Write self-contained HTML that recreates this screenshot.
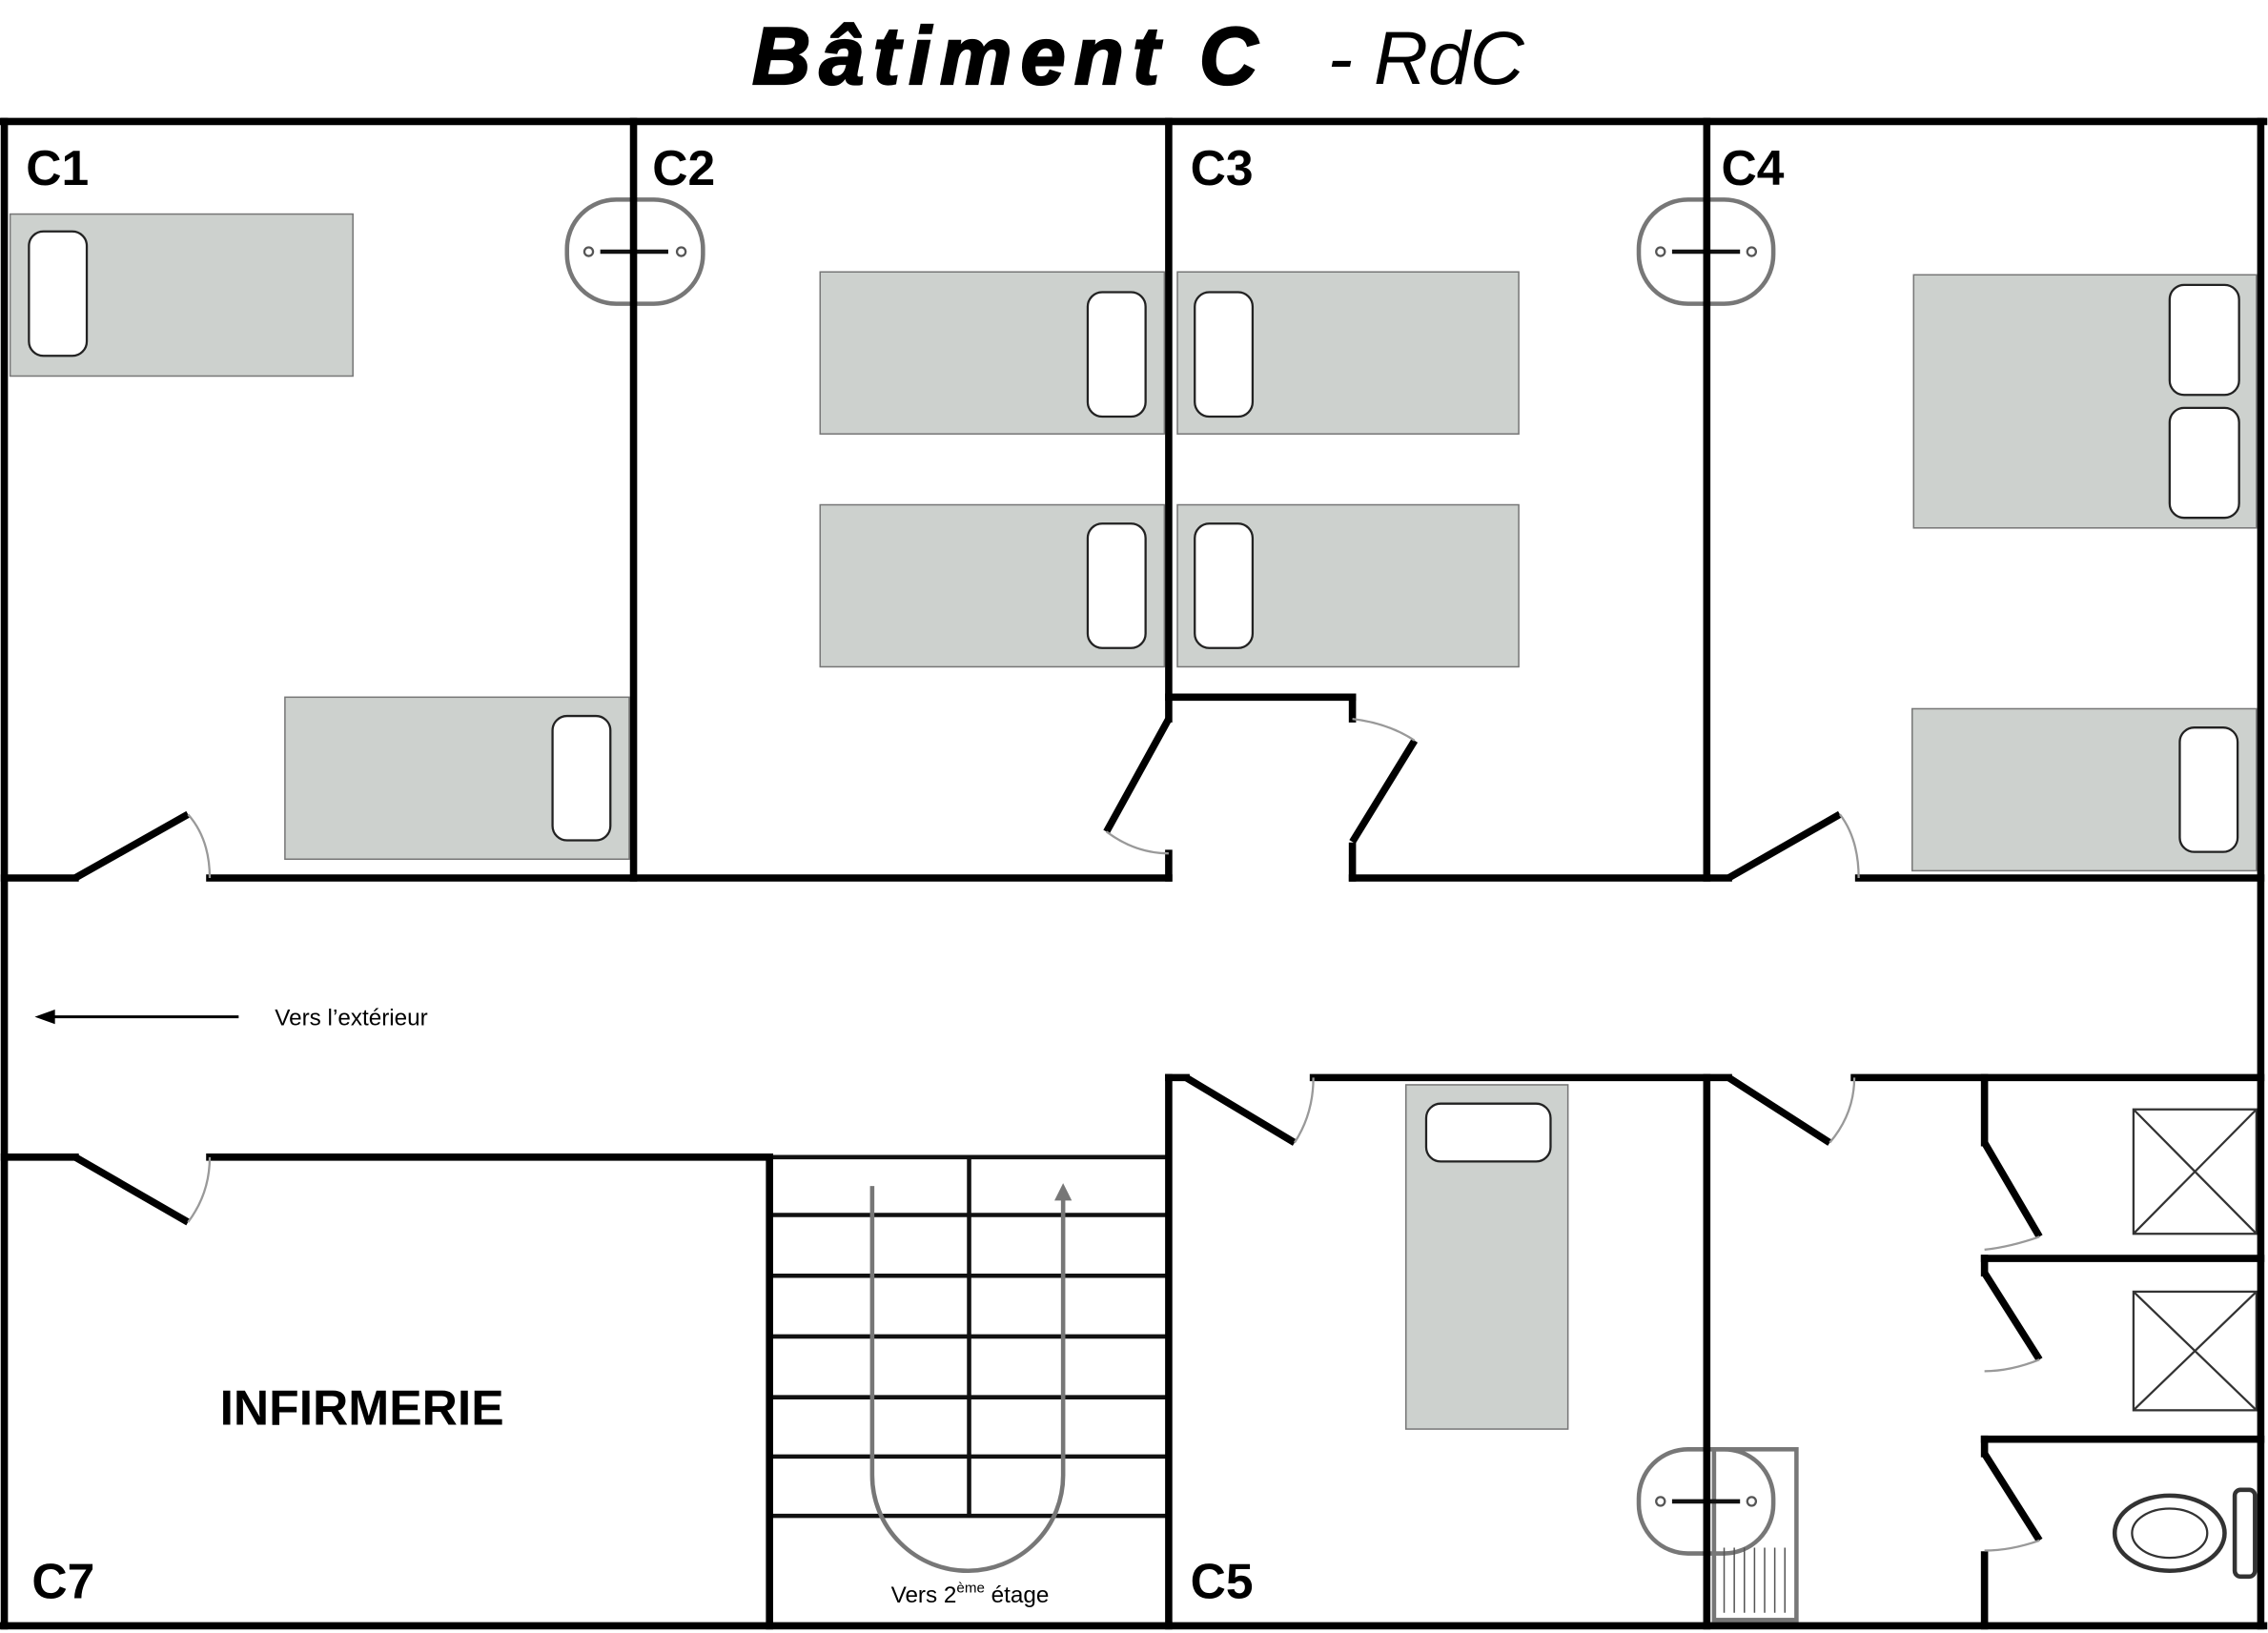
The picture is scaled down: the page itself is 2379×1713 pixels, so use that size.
<!DOCTYPE html>
<html><head><meta charset="utf-8"><style>
html,body{margin:0;padding:0;background:#fff;}
svg{display:block;}
</style></head><body>
<svg width="2379" height="1713" viewBox="0 0 1568 1129" preserveAspectRatio="none" xmlns="http://www.w3.org/2000/svg">
<rect width="1568" height="1129" fill="#fff"/>
<!-- Title -->
<text x="520" y="58" font-family="Liberation Sans, sans-serif" font-size="56" font-weight="900" font-style="italic" letter-spacing="6" stroke="#000" stroke-width="1.5">Bâtiment C</text>
<text x="918" y="58" font-family="Liberation Sans, sans-serif" font-size="52" font-style="italic">- RdC</text>

<!-- Beds -->
<g fill="#cdd1ce" stroke="#777" stroke-width="1">
<rect x="7" y="148" width="237" height="112"/>
<rect x="197" y="482" width="238" height="112"/>
<rect x="567" y="188" width="238" height="112"/>
<rect x="567" y="349" width="238" height="112"/>
<rect x="814" y="188" width="236" height="112"/>
<rect x="814" y="349" width="236" height="112"/>
<rect x="1323" y="190" width="237" height="175"/>
<rect x="1322" y="490" width="238" height="112"/>
<rect x="972" y="750" width="112" height="238"/>
</g>
<g fill="#fff" stroke="#222" stroke-width="1.5">
<rect x="20" y="160" width="40" height="86" rx="10"/>
<rect x="382" y="495" width="40" height="86" rx="10"/>
<rect x="752" y="202" width="40" height="86" rx="10"/>
<rect x="752" y="362" width="40" height="86" rx="10"/>
<rect x="826" y="202" width="40" height="86" rx="10"/>
<rect x="826" y="362" width="40" height="86" rx="10"/>
<rect x="1500" y="197" width="48" height="76" rx="10"/>
<rect x="1500" y="282" width="48" height="76" rx="10"/>
<rect x="1507" y="503" width="40" height="86" rx="10"/>
<rect x="986" y="763" width="86" height="40" rx="10"/>
</g>

<!-- Sinks -->
<g fill="none" stroke="#777" stroke-width="3">
<rect x="392" y="138" width="94" height="72" rx="34"/>
<rect x="1133" y="138" width="93" height="72" rx="34"/>
<rect x="1133" y="1002" width="93" height="72" rx="34"/>
<rect x="1185" y="1002" width="57" height="118"/>
</g>
<g stroke="#111" stroke-width="3">
<line x1="415" y1="174" x2="462" y2="174"/>
<line x1="1156" y1="174" x2="1203" y2="174"/>
<line x1="1156" y1="1038" x2="1203" y2="1038"/>
</g>
<g fill="none" stroke="#555" stroke-width="1.5">
<circle cx="407" cy="174" r="3"/><circle cx="471" cy="174" r="3"/>
<circle cx="1148" cy="174" r="3"/><circle cx="1211" cy="174" r="3"/>
<circle cx="1148" cy="1038" r="3"/><circle cx="1211" cy="1038" r="3"/>
</g>
<g stroke="#555" stroke-width="1">
<line x1="1192" y1="1070" x2="1192" y2="1115"/><line x1="1199" y1="1070" x2="1199" y2="1115"/>
<line x1="1206" y1="1070" x2="1206" y2="1115"/><line x1="1213" y1="1070" x2="1213" y2="1115"/>
<line x1="1220" y1="1070" x2="1220" y2="1115"/><line x1="1227" y1="1070" x2="1227" y2="1115"/>
<line x1="1234" y1="1070" x2="1234" y2="1115"/>
</g>

<!-- Showers & toilet -->
<g fill="none" stroke="#333" stroke-width="1.5">
<rect x="1475" y="767" width="85" height="86"/>
<rect x="1475" y="893" width="85" height="82"/>
<line x1="1475" y1="767" x2="1560" y2="853"/><line x1="1560" y1="767" x2="1475" y2="853"/>
<line x1="1475" y1="893" x2="1560" y2="975"/><line x1="1560" y1="893" x2="1475" y2="975"/>
<ellipse cx="1500" cy="1060" rx="38" ry="26" stroke-width="3"/>
<ellipse cx="1500" cy="1060" rx="26" ry="17"/>
<rect x="1545" y="1030" width="14" height="60" rx="4" stroke-width="3"/>
</g>

<!-- Stairs -->
<g stroke="#111" stroke-width="3">
<line x1="532" y1="800" x2="808" y2="800"/>
<line x1="532" y1="840" x2="808" y2="840"/>
<line x1="532" y1="882" x2="808" y2="882"/>
<line x1="532" y1="924" x2="808" y2="924"/>
<line x1="532" y1="966" x2="808" y2="966"/>
<line x1="532" y1="1007" x2="808" y2="1007"/>
<line x1="532" y1="1048" x2="808" y2="1048"/>
<line x1="670" y1="800" x2="670" y2="1048"/>
</g>
<path d="M603 820 L603 1020 A66 66 0 0 0 735 1020 L735 828" fill="none" stroke="#777" stroke-width="3"/>
<path d="M729 830 L735 818 L741 830 Z" fill="#777"/>

<!-- Walls -->
<g stroke="#000" stroke-width="5" fill="none" stroke-linecap="square">
<line x1="0" y1="84" x2="1565" y2="84"/>
<line x1="3" y1="84" x2="3" y2="1124"/>
<line x1="1563" y1="84" x2="1563" y2="1124"/>
<line x1="0" y1="1124" x2="1565" y2="1124"/>
<line x1="438" y1="84" x2="438" y2="607"/>
<line x1="808" y1="84" x2="808" y2="497"/>
<line x1="808" y1="590" x2="808" y2="607"/>
<line x1="808" y1="482" x2="935" y2="482"/>
<line x1="935" y1="482" x2="935" y2="497"/>
<line x1="935" y1="585" x2="935" y2="607"/>
<line x1="1180" y1="84" x2="1180" y2="607"/>
<line x1="3" y1="607" x2="52" y2="607"/>
<line x1="145" y1="607" x2="808" y2="607"/>
<line x1="935" y1="607" x2="1195" y2="607"/>
<line x1="1285" y1="607" x2="1563" y2="607"/>
<line x1="808" y1="745" x2="820" y2="745"/>
<line x1="908" y1="745" x2="1195" y2="745"/>
<line x1="1282" y1="745" x2="1563" y2="745"/>
<line x1="3" y1="800" x2="52" y2="800"/>
<line x1="145" y1="800" x2="532" y2="800"/>
<line x1="532" y1="800" x2="532" y2="1124"/>
<line x1="808" y1="745" x2="808" y2="1124"/>
<line x1="1180" y1="745" x2="1180" y2="1124"/>
<line x1="1372" y1="745" x2="1372" y2="790"/>
<line x1="1372" y1="870" x2="1372" y2="880"/>
<line x1="1372" y1="870" x2="1563" y2="870"/>
<line x1="1372" y1="995" x2="1563" y2="995"/>
<line x1="1372" y1="995" x2="1372" y2="1005"/>
<line x1="1372" y1="1075" x2="1372" y2="1124"/>
</g>
<!-- Door leaves -->
<g stroke="#000" stroke-width="5">
<line x1="52" y1="607" x2="130" y2="563"/>
<line x1="808" y1="497" x2="765" y2="575"/>
<line x1="935" y1="582" x2="978" y2="512"/>
<line x1="1195" y1="607" x2="1272" y2="563"/>
<line x1="820" y1="745" x2="895" y2="790"/>
<line x1="1195" y1="745" x2="1265" y2="790"/>
<line x1="52" y1="800" x2="130" y2="845"/>
<line x1="1372" y1="790" x2="1410" y2="855"/>
<line x1="1372" y1="880" x2="1410" y2="940"/>
<line x1="1372" y1="1005" x2="1410" y2="1065"/>
</g>
<g stroke="#999" stroke-width="1.5" fill="none">
<path d="M130 563 Q145 580 145 607"/>
<path d="M765 575 Q785 590 808 590"/>
<path d="M978 512 Q960 500 935 497"/>
<path d="M1272 563 Q1285 580 1285 607"/>
<path d="M895 790 Q908 770 908 745"/>
<path d="M1265 790 Q1282 770 1282 745"/>
<path d="M130 845 Q145 825 145 800"/>
<path d="M1410 855 Q1390 862 1372 864"/>
<path d="M1410 940 Q1390 948 1372 948"/>
<path d="M1410 1065 Q1390 1072 1372 1072"/>
</g>

<!-- Corridor arrow -->
<line x1="35" y1="703" x2="165" y2="703" stroke="#000" stroke-width="2"/>
<path d="M24 703 L38 698 L38 708 Z" fill="#000"/>

<!-- Labels -->
<g font-family="Liberation Sans Narrow, Liberation Sans, sans-serif" font-weight="bold" font-size="34" fill="#000">
<text x="18" y="128">C1</text>
<text x="451" y="128">C2</text>
<text x="823" y="128">C3</text>
<text x="1190" y="128">C4</text>
<text x="823" y="1105">C5</text>
<text x="22" y="1105">C7</text>
<text x="152" y="985">INFIRMERIE</text>
</g>
<text x="190" y="709" font-family="Liberation Sans Narrow, Liberation Sans, sans-serif" font-size="16">Vers l’extérieur</text>
<text x="616" y="1108" font-family="Liberation Sans Narrow, Liberation Sans, sans-serif" font-size="16">Vers 2<tspan font-size="10" dy="-7">ème</tspan><tspan dy="7"> étage</tspan></text>
</svg>
</body></html>
